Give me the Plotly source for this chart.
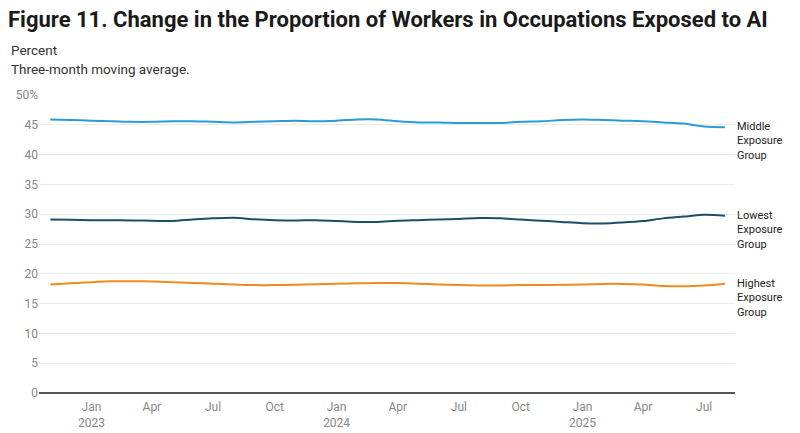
import plotly.graph_objects as go

months = [
    "2022-11-01", "2022-12-01",
    "2023-01-01", "2023-02-01", "2023-03-01", "2023-04-01", "2023-05-01", "2023-06-01",
    "2023-07-01", "2023-08-01", "2023-09-01", "2023-10-01", "2023-11-01", "2023-12-01",
    "2024-01-01", "2024-02-01", "2024-03-01", "2024-04-01", "2024-05-01", "2024-06-01",
    "2024-07-01", "2024-08-01", "2024-09-01", "2024-10-01", "2024-11-01", "2024-12-01",
    "2025-01-01", "2025-02-01", "2025-03-01", "2025-04-01", "2025-05-01", "2025-06-01",
    "2025-07-01", "2025-08-01",
]

middle = [45.9, 45.8,
          45.7, 45.6, 45.5, 45.5, 45.6, 45.6, 45.5, 45.4, 45.5, 45.6, 45.7, 45.6,
          45.7, 45.9, 45.9, 45.6, 45.4, 45.4, 45.3, 45.3, 45.3, 45.5, 45.6, 45.8,
          45.9, 45.8, 45.7, 45.6, 45.4, 45.2, 44.7, 44.6]

lowest = [29.1, 29.05,
          29.0, 29.0, 28.95, 28.9, 28.85, 29.1, 29.3, 29.4, 29.15, 29.0, 28.95, 29.0,
          28.85, 28.7, 28.7, 28.9, 29.0, 29.1, 29.2, 29.35, 29.3, 29.1, 28.9, 28.7,
          28.5, 28.45, 28.6, 28.85, 29.3, 29.6, 29.9, 29.75]

highest = [18.2, 18.4,
           18.6, 18.75, 18.75, 18.7, 18.6, 18.45, 18.35, 18.2, 18.1, 18.1, 18.15, 18.25,
           18.35, 18.4, 18.45, 18.45, 18.35, 18.2, 18.1, 18.05, 18.05, 18.1, 18.1, 18.15,
           18.2, 18.3, 18.3, 18.2, 17.95, 17.9, 18.05, 18.35]

series_names = ["Middle<br>Exposure<br>Group", "Lowest<br>Exposure<br>Group", "Highest<br>Exposure<br>Group"]
series_values = [middle, lowest, highest]
series_colors = ["#2b9bd3", "#1d4e68", "#f08a1e"]

tick_vals = ["2023-01-01", "2023-04-01", "2023-07-01", "2023-10-01",
             "2024-01-01", "2024-04-01", "2024-07-01", "2024-10-01",
             "2025-01-01", "2025-04-01", "2025-07-01"]
tick_text = ["Jan<br>2023", "Apr", "Jul", "Oct",
             "Jan<br>2024", "Apr", "Jul", "Oct",
             "Jan<br>2025", "Apr", "Jul"]

y_vals = [0, 5, 10, 15, 20, 25, 30, 35, 40, 45, 50]
y_text = ["0", "5", "10", "15", "20", "25", "30", "35", "40", "45", "50%"]

W, H = 792, 425  # page body has an 8px margin
ML, MR, MT, MB = 31, 65, 87, 40
PW, PH = W - ML - MR, H - MT - MB

fig = go.Figure()
for name, vals, col in zip(series_names, series_values, series_colors):
    fig.add_trace(go.Scatter(
        x=months, y=vals, mode="lines", name=name,
        line=dict(color=col, width=2, shape="spline", smoothing=0.8),
        showlegend=False, hoverinfo="skip",
    ))
    fig.add_annotation(
        x=1.0, xref="paper", y=vals[-1], yref="y",
        text=name, showarrow=False, xanchor="left", yanchor="middle",
        xshift=0, yshift=-14, align="left",
        font=dict(family="Roboto", size=11, color="#222222"),
    )

fig.update_layout(
    width=W, height=H,
    margin=dict(l=ML, r=MR, t=MT, b=MB),
    paper_bgcolor="white", plot_bgcolor="white",
    font=dict(family="Roboto", size=12, color="#888888"),
    title=dict(
        text="<b>Figure 11. Change in the Proportion of Workers in Occupations Exposed to AI</b>",
        xref="container", x=0, xanchor="left",
        yref="container", y=1 - 4 / H, yanchor="top",
        pad=dict(l=0, t=0, r=0, b=0),
        font=dict(family="Roboto", size=22, color="#1a1a1a"),
    ),
)
sub_x = (-ML + 1) / PW
fig.add_annotation(
    x=sub_x, xref="paper", y=(H - MB - 42) / PH, yref="paper",
    yanchor="middle", xanchor="left",
    text="Percent", showarrow=False, align="left",
    font=dict(family="Roboto", size=13.5, color="#333333"),
)
fig.add_annotation(
    x=sub_x, xref="paper", y=(H - MB - 61) / PH, yref="paper",
    yanchor="middle", xanchor="left",
    text="Three-month moving average.", showarrow=False, align="left",
    font=dict(family="Roboto", size=13.5, color="#333333"),
)

fig.update_xaxes(
    type="date", range=["2022-10-15", "2025-08-16"],
    tickvals=tick_vals, ticktext=tick_text, showgrid=False,
    showline=False, zeroline=False, ticks="", ticklabelstandoff=5,
    automargin=False,
    tickfont=dict(family="Roboto", size=12, color="#888888"),
)
fig.update_yaxes(
    range=[0, 50], tickvals=y_vals, ticktext=y_text,
    showgrid=True, gridcolor="#ebebeb", gridwidth=1,
    zeroline=True, zerolinecolor="#555555", zerolinewidth=1.5,
    ticks="", showline=False, automargin=False,
    tickfont=dict(family="Roboto", size=12, color="#888888"),
)

fig.write_html("out.html")
